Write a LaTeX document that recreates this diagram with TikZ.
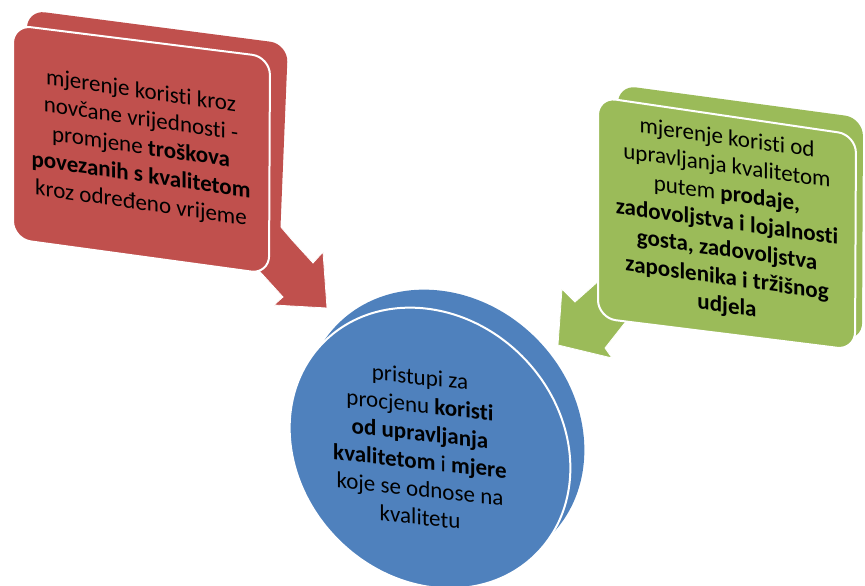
\documentclass[tikz,border=0pt]{standalone}
\usepackage{fontspec}
\setmainfont{Carlito}[Ligatures=NoCommon]
\definecolor{cred}{HTML}{C0504D}
\definecolor{cgreen}{HTML}{9BBB59}
\definecolor{cblue}{HTML}{4F81BD}
\begin{document}
\begin{tikzpicture}[x=1pt,y=-1pt,
  face/.style={draw=white, line width=2pt, rounded corners=18pt},
  backface/.style={rounded corners=18pt},
  arrowshape/.style={draw=white, line width=0.8pt, line join=miter},
  txt/.style={align=center, inner sep=0pt, font=\fontsize{23}{28}\selectfont, text=black}]
\useasboundingbox (0,0) rectangle (865,586);

% red block with arrow
\draw[arrowshape, fill=cred] (240,250) -- (263,275) -- (283,297) -- (274,305) -- (327,308) -- (323,252) -- (313,263) -- (292,240) -- (268,212) -- cycle;
\path[backface, fill=cred] (27,10) -- (288,44) -- (279,263) -- (27,225) -- cycle;
\path[face, fill=cred] (13,25) -- (270,57) -- (269,274) -- (13,239) -- cycle;

% green block with arrow
\draw[arrowshape, fill=cgreen] (620,262) -- (575,302) -- (562,289) -- (558,345) -- (612,358) -- (605,348) -- (642,301) -- cycle;
\path[backface, fill=cgreen] (618,85) -- (863,118) -- (862,341) -- (618,300) -- cycle;
\path[face, fill=cgreen] (598,97) -- (856,135) -- (855,350) -- (598,318) -- cycle;

% blue disc
\fill[cblue, rotate around={-45:(444,430)}] (444,430) ellipse [x radius=150, y radius=130];
\draw[white, line width=2pt, fill=cblue, rotate around={-45:(430,448)}] (430,448) ellipse [x radius=150, y radius=130];

% texts
\node[txt, yslant=-0.145] (rt) at (141,148) {mjerenje koristi kroz\\novčane vrijednosti -\\promjene \textbf{troškova}\\\textbf{povezanih s kvalitetom}\\kroz određeno vrijeme};
\node[txt, yslant=-0.14] (gt) at (727,223) {mjerenje koristi od\\upravljanja kvalitetom\\putem \textbf{prodaje,}\\\textbf{zadovoljstva i lojalnosti}\\\textbf{gosta, zadovoljstva}\\\textbf{zaposlenika i tržišnog}\\\textbf{udjela}};
\node[txt, yslant=-0.11] (bt) at (420,447) {pristupi za\\procjenu \textbf{koristi}\\\textbf{od upravljanja}\\\textbf{kvalitetom} i \textbf{mjere}\\koje se odnose na\\kvalitetu};
\end{tikzpicture}
\end{document}
